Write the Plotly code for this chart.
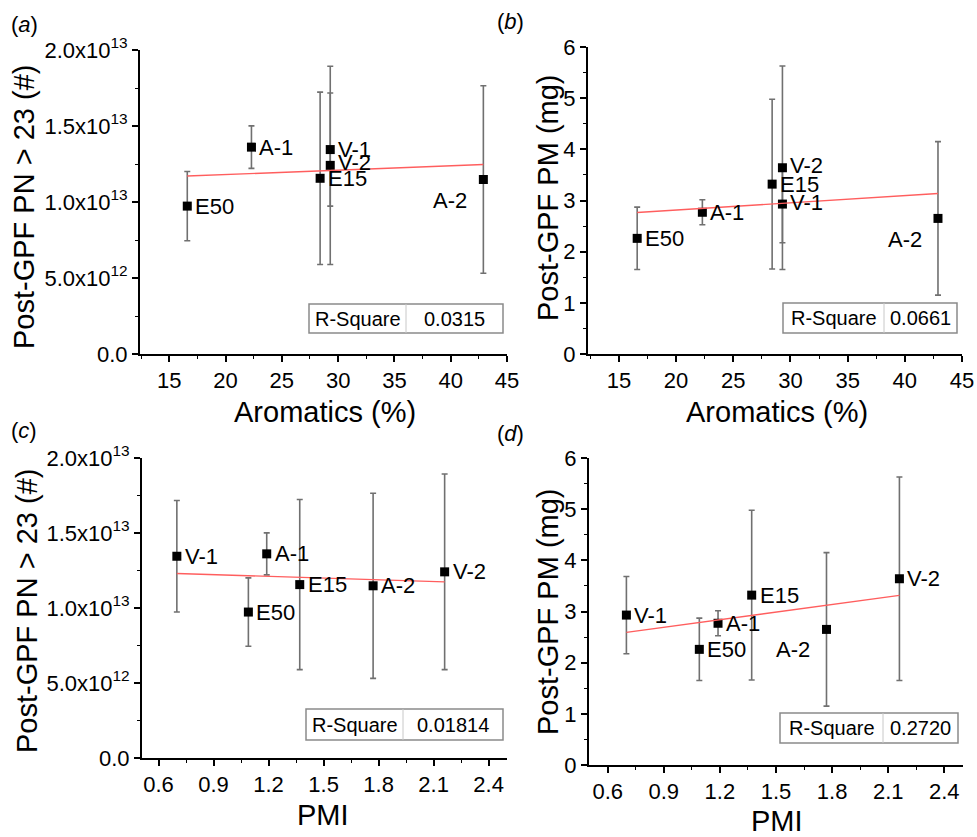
import numpy as np
import plotly.graph_objects as go

# ---------------- data ----------------
fuels = ["E50", "A-1", "V-1", "V-2", "E15", "A-2"]
aromatics = [16.6, 22.3, 29.3, 29.3, 28.4, 42.9]
pmi = [1.09, 1.19, 0.70, 2.16, 1.37, 1.77]
pn = [0.973e13, 1.361e13, 1.345e13, 1.241e13, 1.156e13, 1.148e13]
pn_err = [0.228e13, 0.140e13, 0.372e13, 0.652e13, 0.567e13, 0.617e13]
pm = [2.26, 2.77, 2.93, 3.64, 3.32, 2.65]
pm_err = [0.61, 0.245, 0.755, 1.99, 1.66, 1.50]
r2_text = ["0.0315", "0.0661", "0.01814", "0.2720"]
panel_tags = ["a", "b", "c", "d"]
pn_tickvals = [0, 5e12, 1e13, 1.5e13, 2e13]
pn_ticktext = ["0.0", "5.0x10<sup>12</sup>", "1.0x10<sup>13</sup>",
               "1.5x10<sup>13</sup>", "2.0x10<sup>13</sup>"]
x_titles = ["Aromatics (%)", "Aromatics (%)", "PMI", "PMI"]
y_titles = ["Post-GPF PN > 23 (#)", "Post-GPF PM (mg)",
            "Post-GPF PN > 23 (#)", "Post-GPF PM (mg)"]

# ---------------- layout helpers ----------------
W, H = 977, 837
FONT = "Liberation Sans, Arial, sans-serif"


def px(x):
    return x / W


def py(y):
    return 1 - y / H


panels = [
    dict(x=aromatics, y=pn, e=pn_err, xr=[12.4, 45], yr=[0, 2e13],
         dom=(140, 507, 50, 354), box=(309, 406, 503, 304, 333),
         xt=(325, 412), yt=(24, 207), tag=(24, 25)),
    dict(x=aromatics, y=pm, e=pm_err, xr=[12.3, 45], yr=[0, 6],
         dom=(588, 962, 47, 354), box=(783, 884, 957, 303, 333),
         xt=(777, 412), yt=(548, 198), tag=(510, 22)),
    dict(x=pmi, y=pn, e=pn_err, xr=[0.51, 2.5], yr=[0, 2e13],
         dom=(142, 507, 458, 758), box=(306, 403, 503, 709, 740),
         xt=(323, 815), yt=(27, 611), tag=(24, 430)),
    dict(x=pmi, y=pm, e=pm_err, xr=[0.5, 2.5], yr=[0, 6],
         dom=(589, 963, 458, 765), box=(780, 883, 958, 713, 743),
         xt=(777, 821), yt=(548, 612), tag=(510, 433)),
]

label_style = {
    0: {"A-2": (-14, -21, "right"), "V-2": (6, 3, "left")},
    1: {"A-2": (-14, -21, "right"), "V-2": (6, 2, "left"), "V-1": (6, 2, "left")},
    2: {},
    3: {"A-2": (-14, -20, "right")},
}

fig = go.Figure()
annotations = []
shapes = []

for i, p in enumerate(panels):
    xa = "x" if i == 0 else f"x{i+1}"
    ya = "y" if i == 0 else f"y{i+1}"
    fig.add_trace(go.Scatter(
        x=p["x"], y=p["y"], mode="markers", xaxis=xa, yaxis=ya,
        marker=dict(symbol="square", size=9, color="black"),
        error_y=dict(type="data", array=p["e"], visible=True,
                     color="#707070", thickness=1.6, width=3),
        showlegend=False, hoverinfo="skip"))
    coef = np.polyfit(p["x"], p["y"], 1)
    xs = np.array([min(p["x"]), max(p["x"])])
    fig.add_trace(go.Scatter(
        x=xs, y=np.polyval(coef, xs), mode="lines", xaxis=xa, yaxis=ya,
        line=dict(color="#ff5e5e", width=1.4),
        showlegend=False, hoverinfo="skip"))
    for name, xv, yv in zip(fuels, p["x"], p["y"]):
        dx, dy, anc = label_style[i].get(name, (6, 0, "left"))
        annotations.append(dict(
            x=xv, y=yv, xref=xa, yref=ya, text=name, showarrow=False,
            xanchor=anc, yanchor="middle", xshift=dx, yshift=dy,
            font=dict(family=FONT, size=22, color="black")))
    x0, x1, yt, yb = p["dom"]
    axis_common = dict(showline=True, linecolor="black", linewidth=2,
                       ticks="outside", ticklen=6, tickwidth=1.5,
                       tickcolor="black", showgrid=False, zeroline=False,
                       automargin=False,
                       tickfont=dict(family=FONT, size=22, color="black"))
    xaxis = dict(domain=[px(x0), px(x1)], range=p["xr"], anchor=ya,
                 **axis_common)
    yaxis = dict(domain=[py(yb), py(yt)], range=p["yr"], anchor=xa,
                 **axis_common)
    if i < 2:
        xaxis.update(tickmode="linear", tick0=15, dtick=5,
                     minor=dict(tickmode="linear", tick0=12.5, dtick=2.5,
                                ticks="outside", ticklen=3, tickwidth=1.2,
                                tickcolor="black"))
    else:
        xaxis.update(tickmode="linear", tick0=0.6, dtick=0.3,
                     tickformat=".1f",
                     minor=dict(tickmode="linear", tick0=0.45, dtick=0.15,
                                ticks="outside", ticklen=3, tickwidth=1.2,
                                tickcolor="black"))
    if i in (0, 2):
        yaxis.update(tickmode="array", tickvals=pn_tickvals,
                     ticktext=pn_ticktext,
                     minor=dict(tickmode="linear", tick0=0, dtick=2.5e12,
                                ticks="outside", ticklen=3, tickwidth=1.2,
                                tickcolor="black"))
    else:
        yaxis.update(tickmode="linear", tick0=0, dtick=1,
                     minor=dict(tickmode="linear", tick0=0, dtick=0.5,
                                ticks="outside", ticklen=3, tickwidth=1.2,
                                tickcolor="black"))
    key = "" if i == 0 else str(i + 1)
    fig.update_layout(**{f"xaxis{key}": xaxis, f"yaxis{key}": yaxis})

    tx, ty = p["xt"]
    annotations.append(dict(x=px(tx), y=py(ty), xref="paper", yref="paper",
                            text=x_titles[i], showarrow=False,
                            xanchor="center", yanchor="middle",
                            font=dict(family=FONT, size=29, color="black")))
    tx, ty = p["yt"]
    annotations.append(dict(x=px(tx), y=py(ty), xref="paper", yref="paper",
                            text=y_titles[i], showarrow=False, textangle=-90,
                            xanchor="center", yanchor="middle",
                            font=dict(family=FONT, size=29, color="black")))
    tx, ty = p["tag"]
    annotations.append(dict(x=px(tx), y=py(ty), xref="paper", yref="paper",
                            text=f"(<i>{panel_tags[i]}</i>)", showarrow=False,
                            xanchor="center", yanchor="middle",
                            font=dict(family=FONT, size=22, color="black")))
    bx0, bdiv, bx1, by0, by1 = p["box"]
    shapes.append(dict(type="rect", xref="paper", yref="paper",
                       x0=px(bx0), x1=px(bx1), y0=py(by1), y1=py(by0),
                       line=dict(color="#8a8a8a", width=1.5),
                       fillcolor="white", layer="above"))
    shapes.append(dict(type="line", xref="paper", yref="paper",
                       x0=px(bdiv), x1=px(bdiv), y0=py(by1), y1=py(by0),
                       line=dict(color="#c8c8c8", width=1), layer="above"))
    annotations.append(dict(x=px((bx0 + bdiv) / 2), y=py((by0 + by1) / 2),
                            xref="paper", yref="paper", text="R-Square",
                            showarrow=False, xanchor="center",
                            yanchor="middle",
                            font=dict(family=FONT, size=20, color="black")))
    annotations.append(dict(x=px((bdiv + bx1) / 2), y=py((by0 + by1) / 2),
                            xref="paper", yref="paper", text=r2_text[i],
                            showarrow=False, xanchor="center",
                            yanchor="middle",
                            font=dict(family=FONT, size=20, color="black")))

fig.update_layout(
    template="none",
    width=W, height=H, margin=dict(l=0, r=0, t=0, b=0, pad=0),
    paper_bgcolor="white", plot_bgcolor="white",
    annotations=annotations, shapes=shapes,
    font=dict(family=FONT, color="black"))

fig.write_html(
    "out.html",
    config={"displayModeBar": False},
    post_script="document.body.style.margin='0';"
                "document.body.style.overflow='hidden';")
